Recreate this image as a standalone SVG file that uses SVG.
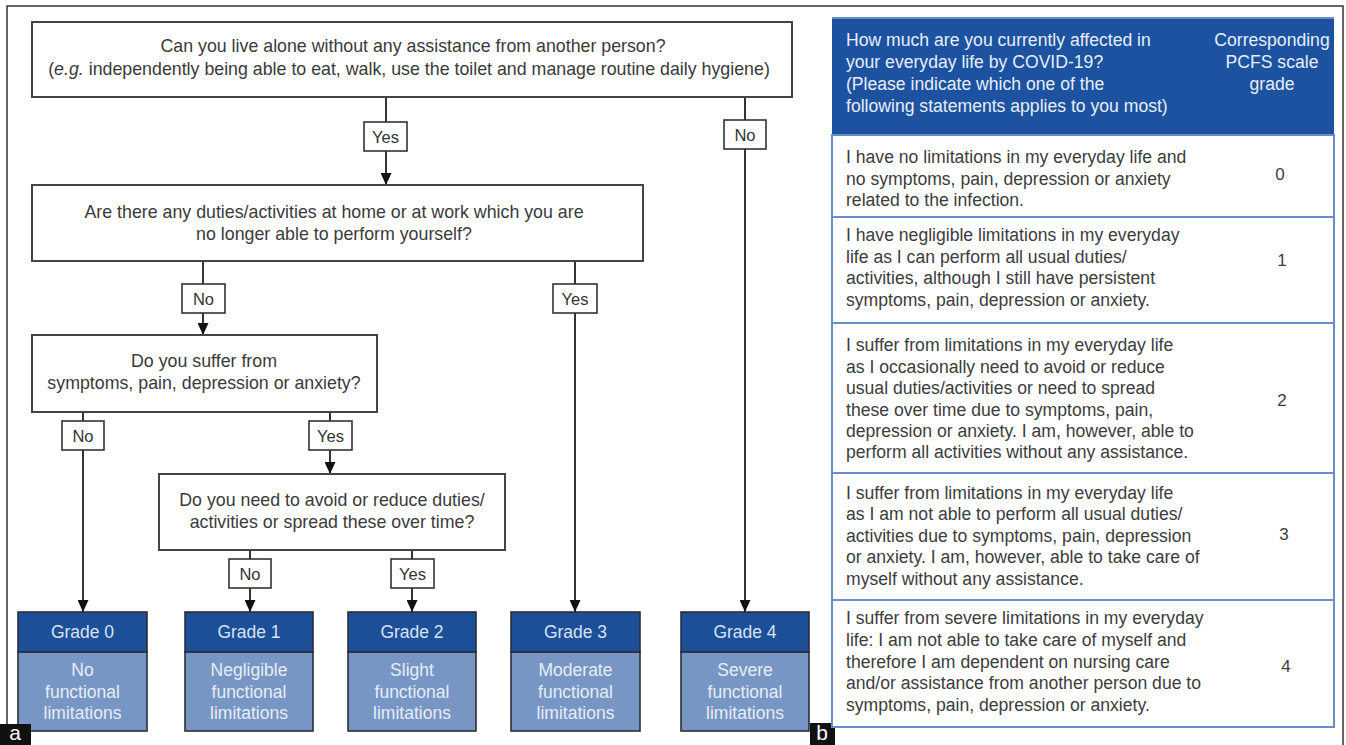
<svg xmlns="http://www.w3.org/2000/svg" width="1346" height="745" viewBox="0 0 1346 745">
<defs>
<style>
text{font-family:"Liberation Sans","DejaVu Sans",Arial,sans-serif;}
.q{font-size:17.8px;fill:#3a3a3a;text-anchor:middle;}
.box{fill:#fff;stroke:#444;stroke-width:2;}
.lbl{fill:#fff;stroke:#333;stroke-width:1.6;}
.lt{font-size:16.5px;fill:#333;text-anchor:middle;}
.ln{stroke:#333;stroke-width:2;fill:none;}
.gh{fill:#1d4f98;stroke:#2a2f3a;stroke-width:1.6;}
.gb{fill:#7896c4;stroke:#2a2f3a;stroke-width:1.6;}
.ght{font-size:17.5px;fill:#d8e2f0;text-anchor:middle;}
.gbt{font-size:17.5px;fill:#e6edf7;text-anchor:middle;}
.th{fill:#1c52a0;}
.row{fill:#fff;stroke:#6a8fc6;stroke-width:2;}
.tt{font-size:17.6px;fill:#3c3c3c;}
.tht{font-size:17.6px;fill:#e8eef7;}
.num{font-size:17px;fill:#3c3c3c;text-anchor:middle;}
.tag{fill:#111;}
.tagt{font-size:21px;fill:#fff;text-anchor:middle;}
</style>
<marker id="arr" markerUnits="userSpaceOnUse" markerWidth="13" markerHeight="11" refX="12" refY="5.5" orient="auto">
<path d="M0,0 L12,5.5 L0,11 z" fill="#111"/>
</marker>
</defs>
<rect width="1346" height="745" fill="#fff"/>
<path d="M7,724 L7,6 L1343,6 L1343,745" fill="none" stroke="#333" stroke-width="1.5"/>

<g id="connectors">
<line class="ln" x1="386" y1="97" x2="386" y2="122"/>
<line class="ln" x1="386" y1="151" x2="386" y2="185" marker-end="url(#arr)"/>
<line class="ln" x1="745" y1="97" x2="745" y2="120"/>
<line class="ln" x1="745" y1="149" x2="745" y2="612" marker-end="url(#arr)"/>
<line class="ln" x1="203" y1="261" x2="203" y2="284"/>
<line class="ln" x1="203" y1="313" x2="203" y2="335" marker-end="url(#arr)"/>
<line class="ln" x1="575" y1="261" x2="575" y2="284"/>
<line class="ln" x1="575" y1="313" x2="575" y2="612" marker-end="url(#arr)"/>
<line class="ln" x1="83" y1="412" x2="83" y2="421"/>
<line class="ln" x1="83" y1="450" x2="83" y2="612" marker-end="url(#arr)"/>
<line class="ln" x1="330" y1="412" x2="330" y2="421"/>
<line class="ln" x1="330" y1="450" x2="330" y2="474" marker-end="url(#arr)"/>
<line class="ln" x1="250" y1="550" x2="250" y2="559"/>
<line class="ln" x1="250" y1="588" x2="250" y2="612" marker-end="url(#arr)"/>
<line class="ln" x1="412" y1="550" x2="412" y2="559"/>
<line class="ln" x1="412" y1="588" x2="412" y2="612" marker-end="url(#arr)"/>
<rect class="lbl" x="364" y="122" width="43" height="29"/><text class="lt" x="385.5" y="142.5">Yes</text>
<rect class="lbl" x="724" y="120" width="42" height="29"/><text class="lt" x="745" y="140.5">No</text>
<rect class="lbl" x="182" y="284" width="43" height="29"/><text class="lt" x="203.5" y="304.5">No</text>
<rect class="lbl" x="553" y="284" width="44" height="29"/><text class="lt" x="575" y="304.5">Yes</text>
<rect class="lbl" x="62" y="421" width="42" height="29"/><text class="lt" x="83" y="441.5">No</text>
<rect class="lbl" x="309" y="421" width="43" height="29"/><text class="lt" x="330.5" y="441.5">Yes</text>
<rect class="lbl" x="229" y="559" width="42" height="29"/><text class="lt" x="250" y="579.5">No</text>
<rect class="lbl" x="391" y="559" width="43" height="29"/><text class="lt" x="412.5" y="579.5">Yes</text>
</g>

<g id="q1">
<rect class="box" x="32" y="22" width="760" height="75"/>
<text class="q" x="413" y="51.5">Can you live alone without any assistance from another person?</text>
<text class="q" x="409" y="74.5">(<tspan font-style="italic">e.g.</tspan> independently being able to eat, walk, use the toilet and manage routine daily hygiene)</text>
</g>
<g id="q2">
<rect class="box" x="32" y="185" width="611" height="76"/>
<text class="q" x="334" y="217.5">Are there any duties/activities at home or at work which you are</text>
<text class="q" x="334" y="239.5">no longer able to perform yourself?</text>
</g>
<g id="q3">
<rect class="box" x="32" y="335" width="345" height="77"/>
<text class="q" x="204" y="366.5">Do you suffer from</text>
<text class="q" x="204" y="388.5">symptoms, pain, depression or anxiety?</text>
</g>
<g id="q4">
<rect class="box" x="159" y="474" width="346" height="76"/>
<text class="q" x="332" y="505.5">Do you need to avoid or reduce duties/</text>
<text class="q" x="332" y="527.5">activities or spread these over time?</text>
</g>

<g id="grade0">
<rect class="gb" x="18" y="652" width="129" height="79"/>
<rect class="gh" x="18" y="612" width="129" height="40"/>
<text class="ght" x="82.5" y="638">Grade 0</text>
<text class="gbt" x="82.5" y="676">No</text>
<text class="gbt" x="82.5" y="698">functional</text>
<text class="gbt" x="82.5" y="719">limitations</text>
</g>
<g id="grade1">
<rect class="gb" x="185" y="652" width="128" height="79"/>
<rect class="gh" x="185" y="612" width="128" height="40"/>
<text class="ght" x="249" y="638">Grade 1</text>
<text class="gbt" x="249" y="676">Negligible</text>
<text class="gbt" x="249" y="698">functional</text>
<text class="gbt" x="249" y="719">limitations</text>
</g>
<g id="grade2">
<rect class="gb" x="348" y="652" width="128" height="79"/>
<rect class="gh" x="348" y="612" width="128" height="40"/>
<text class="ght" x="412" y="638">Grade 2</text>
<text class="gbt" x="412" y="676">Slight</text>
<text class="gbt" x="412" y="698">functional</text>
<text class="gbt" x="412" y="719">limitations</text>
</g>
<g id="grade3">
<rect class="gb" x="511" y="652" width="129" height="79"/>
<rect class="gh" x="511" y="612" width="129" height="40"/>
<text class="ght" x="575.5" y="638">Grade 3</text>
<text class="gbt" x="575.5" y="676">Moderate</text>
<text class="gbt" x="575.5" y="698">functional</text>
<text class="gbt" x="575.5" y="719">limitations</text>
</g>
<g id="grade4">
<rect class="gb" x="681" y="652" width="128" height="79"/>
<rect class="gh" x="681" y="612" width="128" height="40"/>
<text class="ght" x="745" y="638">Grade 4</text>
<text class="gbt" x="745" y="676">Severe</text>
<text class="gbt" x="745" y="698">functional</text>
<text class="gbt" x="745" y="719">limitations</text>
</g>

<g id="label-a"><rect class="tag" x="0" y="724" width="31" height="21"/><text class="tagt" x="15" y="740">a</text></g>
<g id="label-b"><rect class="tag" x="810" y="723" width="25" height="22"/><text class="tagt" x="822" y="740">b</text></g>

<g id="table-header">
<rect class="th" x="832" y="18" width="502" height="117"/>
<line x1="832" y1="18" x2="1334" y2="18" stroke="#6a8fc6" stroke-width="2"/>
<text class="tht" x="846" y="46">How much are you currently affected in</text>
<text class="tht" x="846" y="68">your everyday life by COVID-19?</text>
<text class="tht" x="846" y="90">(Please indicate which one of the</text>
<text class="tht" x="846" y="112">following statements applies to you most)</text>
<text class="tht" x="1272" y="46" text-anchor="middle">Corresponding</text>
<text class="tht" x="1272" y="68" text-anchor="middle">PCFS scale</text>
<text class="tht" x="1272" y="90" text-anchor="middle">grade</text>
</g>
<g id="row0">
<rect class="row" x="832" y="135" width="502" height="82"/>
<text class="tt" x="846" y="163">I have no limitations in my everyday life and</text>
<text class="tt" x="846" y="185">no symptoms, pain, depression or anxiety</text>
<text class="tt" x="846" y="206">related to the infection.</text>
<text class="num" x="1280" y="180">0</text>
</g>
<g id="row1">
<rect class="row" x="832" y="217" width="502" height="106"/>
<text class="tt" x="846" y="241">I have negligible limitations in my everyday</text>
<text class="tt" x="846" y="263">life as I can perform all usual duties/</text>
<text class="tt" x="846" y="284">activities, although I still have persistent</text>
<text class="tt" x="846" y="306">symptoms, pain, depression or anxiety.</text>
<text class="num" x="1282" y="266">1</text>
</g>
<g id="row2">
<rect class="row" x="832" y="323" width="502" height="150"/>
<text class="tt" x="846" y="351">I suffer from limitations in my everyday life</text>
<text class="tt" x="846" y="373">as I occasionally need to avoid or reduce</text>
<text class="tt" x="846" y="394">usual duties/activities or need to spread</text>
<text class="tt" x="846" y="416">these over time due to symptoms, pain,</text>
<text class="tt" x="846" y="437">depression or anxiety. I am, however, able to</text>
<text class="tt" x="846" y="458">perform all activities without any assistance.</text>
<text class="num" x="1282" y="406">2</text>
</g>
<g id="row3">
<rect class="row" x="832" y="473" width="502" height="127"/>
<text class="tt" x="846" y="499">I suffer from limitations in my everyday life</text>
<text class="tt" x="846" y="520">as I am not able to perform all usual duties/</text>
<text class="tt" x="846" y="542">activities due to symptoms, pain, depression</text>
<text class="tt" x="846" y="563">or anxiety. I am, however, able to take care of</text>
<text class="tt" x="846" y="585">myself without any assistance.</text>
<text class="num" x="1284" y="540">3</text>
</g>
<g id="row4">
<rect class="row" x="832" y="600" width="502" height="127"/>
<text class="tt" x="846" y="624">I suffer from severe limitations in my everyday</text>
<text class="tt" x="846" y="646">life: I am not able to take care of myself and</text>
<text class="tt" x="846" y="668">therefore I am dependent on nursing care</text>
<text class="tt" x="846" y="689">and/or assistance from another person due to</text>
<text class="tt" x="846" y="711">symptoms, pain, depression or anxiety.</text>
<text class="num" x="1286" y="672">4</text>
</g>
</svg>
